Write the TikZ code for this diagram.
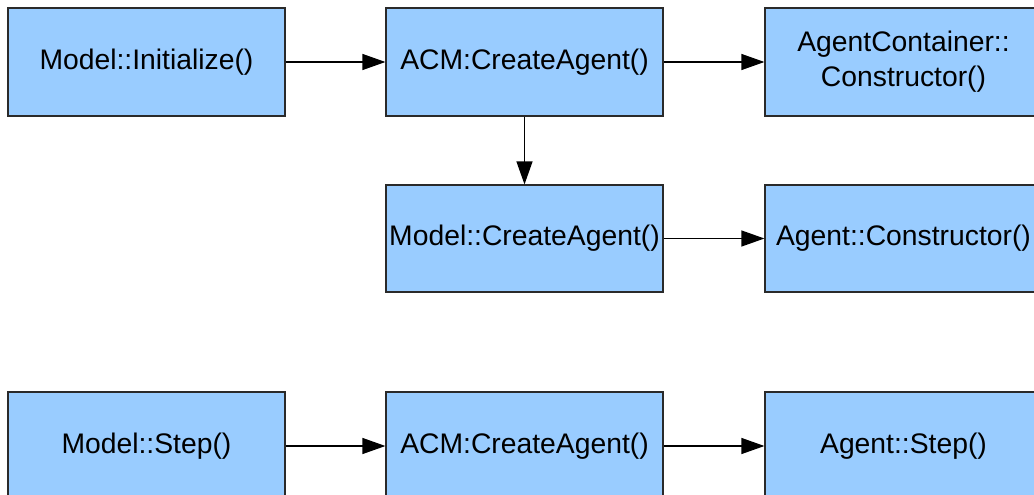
\documentclass[tikz,border=0pt]{standalone}
\usepackage{fontspec}
\setmainfont{Liberation Sans}
\usetikzlibrary{arrows.meta}
\definecolor{boxfill}{HTML}{99CCFF}
\definecolor{boxline}{HTML}{2A2A2A}
\begin{document}
\begin{tikzpicture}[x=1pt,y=-1pt,
  fn/.style={draw=boxline, line width=1.2pt, fill=boxfill, rectangle,
    minimum width=277pt, minimum height=108pt, inner sep=0pt, align=center,
    font=\fontsize{28.3}{35}\selectfont, text=black},
  call/.style={line width=1.2pt, draw=black, -{Triangle[length=23pt,width=16pt]}}]
  \useasboundingbox (0,0) rectangle (1034,495);
  \clip (0,0) rectangle (1034,495);
  \fill[white] (0,0) rectangle (1034,495);
  % initialization chain
  \node[fn] (init) at (146.5,62) {Model::Initialize()};
  \node[fn] (acm1) at (524.5,62) {ACM:CreateAgent()};
  \node[fn] (acon) at (903.5,62) {AgentContainer::\\Constructor()};
  \node[fn, minimum height=107pt] (mca) at (524.5,238.5) {Model::CreateAgent()};
  \node[fn, minimum height=107pt] (acons) at (903.5,238.5) {Agent::Constructor()};
  % step chain
  \node[fn] (mstep) at (146.5,446) {Model::Step()};
  \node[fn] (acm2) at (524.5,446) {ACM:CreateAgent()};
  \node[fn] (astep) at (903.5,446) {Agent::Step()};
  % calls
  \draw[call] (init) -- (acm1);
  \draw[call] (acm1) -- (acon);
  \draw[call] (acm1) -- (mca);
  \draw[call] (mca) -- (acons);
  \draw[call] (mstep) -- (acm2);
  \draw[call] (acm2) -- (astep);
\end{tikzpicture}
\end{document}
